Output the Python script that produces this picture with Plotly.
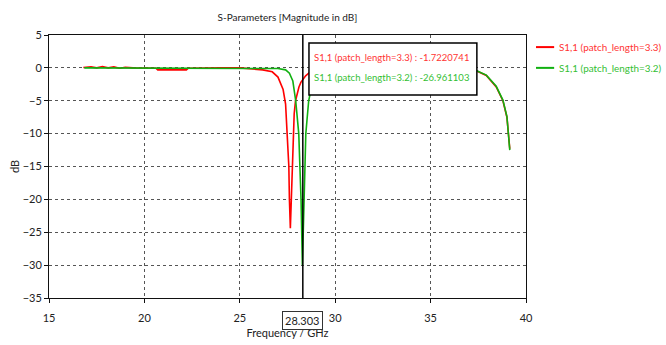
import plotly.graph_objects as go

# ---- data ----
freq_33 = [16.8, 17.2, 17.5, 17.8, 18.1, 18.4, 18.7, 19.0, 19.4, 20.0, 20.6, 20.7, 21.5, 22.2, 22.3,
           23.0, 24.0, 25.0, 25.7, 26.2, 26.7, 27.0, 27.27, 27.4, 27.48, 27.57, 27.6, 27.65, 27.7,
           27.76, 27.79, 27.85, 27.92, 28.0, 28.1, 28.2, 28.303, 28.45, 28.66, 28.9, 29.2, 30.0,
           31.0, 32.0, 33.0, 34.0, 35.0, 36.0, 37.0, 37.39, 37.92, 38.44, 38.79, 39.0, 39.1, 39.15]
s11_33 = [0.05, 0.15, 0.0, 0.2, 0.0, 0.15, -0.05, 0.1, 0.0, 0.0, -0.05, -0.3, -0.3, -0.3, -0.05,
          0.0, 0.0, 0.0, -0.2, -0.3, -0.6, -1.4, -3.3, -5.5, -10.0, -15.0, -20.0, -24.4, -20.0,
          -15.0, -10.0, -7.0, -5.0, -3.8, -2.9, -2.2, -1.7220741, -1.2, -0.7, -0.4, -0.2, -0.1,
          -0.05, 0.0, 0.0, 0.0, 0.0, 0.0, 0.0, -0.45, -1.15, -2.9, -5.0, -7.5, -11.0, -12.3]

freq_32 = [16.85, 18.0, 19.0, 20.0, 22.0, 24.0, 26.0, 27.0, 27.4, 27.6, 27.78, 27.88, 27.93, 28.09,
           28.16, 28.21, 28.28, 28.303, 28.35, 28.39, 28.46, 28.52, 28.61, 28.75, 28.9, 29.1, 29.5,
           30.5, 32.0, 34.0, 36.0, 37.0, 37.39, 37.92, 38.44, 38.79, 39.0, 39.1, 39.15]
s11_32 = [0.0, 0.0, 0.0, 0.0, 0.0, 0.0, 0.0, -0.1, -0.3, -0.8, -2.0, -4.1, -5.0, -10.0,
          -15.0, -20.0, -30.0, -26.961103, -20.0, -15.0, -10.0, -8.0, -5.0, -3.0, -1.8, -1.0, -0.5,
          -0.2, 0.0, 0.0, 0.0, 0.0, -0.4, -1.1, -2.8, -4.9, -7.4, -10.9, -12.5]

name_33 = "S1,1 (patch_length=3.3)"
name_32 = "S1,1 (patch_length=3.2)"
marker_freq = 28.303
marker_33 = -1.7220741
marker_32 = -26.961103

x_ticks = [15, 20, 25, 30, 35, 40]
y_ticks = [5, 0, -5, -10, -15, -20, -25, -30, -35]

RED = "#ff0000"
GREEN = "#10b010"
RED_T = "#ff3333"
GREEN_T = "#33c033"
FONT = "Lato, Liberation Sans, sans-serif"
TXT = "#222"

fig = go.Figure()
fig.add_trace(go.Scatter(x=freq_33, y=s11_33, mode="lines",
                         line=dict(color=RED, width=1.6), name=name_33, showlegend=False))
fig.add_trace(go.Scatter(x=freq_32, y=s11_32, mode="lines",
                         line=dict(color=GREEN, width=1.6), name=name_32, showlegend=False))

# marker line
fig.add_shape(type="line", xref="x", yref="paper", x0=marker_freq, x1=marker_freq,
              y0=0, y1=1, line=dict(color="black", width=1.5), layer="above")

# marker readout box
fig.add_shape(type="rect", xref="paper", yref="paper", x0=0.545, x1=0.897, y0=0.772, y1=0.970,
              line=dict(color="black", width=1.5), fillcolor="white", layer="above")
fig.add_annotation(xref="paper", yref="paper", x=0.551, y=0.916, xanchor="left", yanchor="middle",
                   showarrow=False, text=f"{name_33} : {marker_33}",
                   font=dict(color=RED_T, size=9.5, family=FONT))
fig.add_annotation(xref="paper", yref="paper", x=0.551, y=0.837, xanchor="left", yanchor="middle",
                   showarrow=False, text=f"{name_32} : {marker_32}",
                   font=dict(color=GREEN_T, size=9.5, family=FONT))

# marker x label
fig.add_annotation(xref="x", yref="paper", x=marker_freq, y=-0.085, yanchor="middle",
                   showarrow=False, text=f"{marker_freq}", bordercolor="#333", borderwidth=1,
                   borderpad=2, bgcolor="white", font=dict(size=11, color=TXT, family=FONT))

# legend (drawn at the right of the plot)
legend_items = [(name_33, RED, RED_T, 0.954), (name_32, GREEN, GREEN_T, 0.875)]
for nm, lc, tc, yy in legend_items:
    fig.add_shape(type="line", xref="paper", yref="paper", x0=1.021, x1=1.059, y0=yy, y1=yy,
                  line=dict(color=lc, width=2))
    fig.add_annotation(xref="paper", yref="paper", x=1.064, y=yy, xanchor="left",
                       yanchor="middle", showarrow=False, text=nm,
                       font=dict(color=tc, size=9.9, family=FONT))

fig.update_layout(
    width=666, height=345,
    margin=dict(l=49, r=140, t=35, b=47, autoexpand=False),
    paper_bgcolor="white", plot_bgcolor="white",
    font=dict(family=FONT, size=11, color=TXT),
    title=dict(text="S-Parameters [Magnitude in dB]", x=0.4315, xanchor="center",
               y=0.948, yanchor="middle", font=dict(size=10, color=TXT, family=FONT)),
    showlegend=False,
)
fig.update_xaxes(range=[15, 40], tickvals=x_ticks, showgrid=True, gridcolor="#555",
                 griddash="dot", gridwidth=1, zeroline=False, showline=True, linecolor="#111",
                 linewidth=1, mirror=True, ticks="outside", ticklen=4, tickcolor="#111",
                 automargin=False, ticklabelstandoff=6,
                 title=dict(text="Frequency / GHz", standoff=6, font=dict(size=11)))
fig.update_yaxes(range=[-35, 5], tickvals=y_ticks, showgrid=True, gridcolor="#555",
                 griddash="dot", gridwidth=1, zeroline=False, showline=True, linecolor="#111",
                 linewidth=1, mirror=True, ticks="outside", ticklen=4, tickcolor="#111",
                 automargin=False,
                 title=dict(text="dB", standoff=0, font=dict(size=11)))

fig.write_html("out.html")
